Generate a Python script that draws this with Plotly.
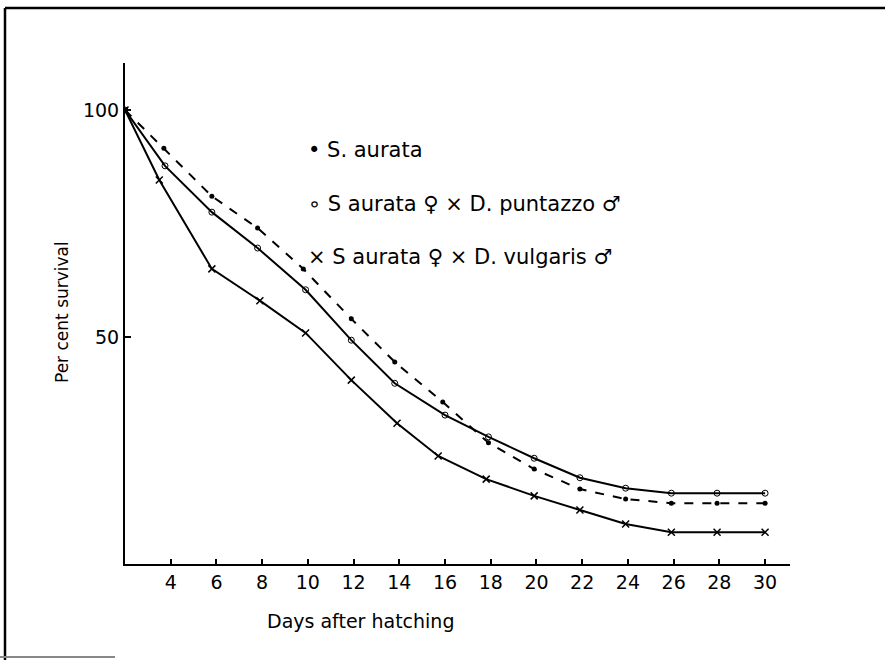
import plotly.graph_objects as go

# Data
days_aurata = [2, 3.7, 5.8, 7.8, 9.8, 11.9, 13.8, 15.9, 17.9, 19.9, 21.9, 23.9, 25.9, 27.9, 30]
surv_aurata = [100, 91.6, 81, 74, 65, 54, 44.5, 35.7, 26.7, 20.9, 16.5, 14.3, 13.4, 13.4, 13.4]

days_puntazzo = [2, 3.75, 5.8, 7.8, 9.9, 11.9, 13.8, 16, 17.9, 19.9, 21.9, 23.9, 25.9, 27.9, 30]
surv_puntazzo = [100, 87.7, 77.5, 69.6, 60.4, 49.3, 39.8, 32.8, 28, 23.3, 19, 16.7, 15.6, 15.6, 15.6]

days_vulgaris = [2, 3.5, 5.8, 7.9, 9.9, 11.9, 13.9, 15.7, 17.8, 19.9, 21.9, 23.9, 25.9, 27.9, 30]
surv_vulgaris = [100, 84.6, 65, 58, 50.9, 40.5, 31, 23.8, 18.7, 15, 11.9, 8.8, 7, 7, 7]

x_ticks = [4, 6, 8, 10, 12, 14, 16, 18, 20, 22, 24, 26, 28, 30]
y_ticks = [50, 100]

legend_labels = ["• S. aurata",
                 "∘ S aurata ♀ × D. puntazzo ♂",
                 "× S aurata ♀ × D. vulgaris ♂"]

FONT = "DejaVu Sans"
W, H = 885, 660
L, R, T, B = 125, 95, 63, 96
pw, ph = W - L - R, H - T - B

def px(x):
    return (x - L) / pw

def py(y):
    return (H - B - y) / ph

fig = go.Figure()
fig.add_trace(go.Scatter(x=days_aurata, y=surv_aurata, mode="lines+markers",
                         line=dict(color="black", width=2, dash="dash"),
                         marker=dict(symbol="circle", size=5, color="black"),
                         name="S. aurata"))
fig.add_trace(go.Scatter(x=days_puntazzo, y=surv_puntazzo, mode="lines+markers",
                         line=dict(color="black", width=2),
                         marker=dict(symbol="circle-open", size=6, color="black"),
                         name="S. aurata x D. puntazzo"))
fig.add_trace(go.Scatter(x=days_vulgaris, y=surv_vulgaris, mode="lines+markers",
                         line=dict(color="black", width=2),
                         marker=dict(symbol="x-thin-open", size=7, color="black",
                                     line=dict(width=1.5, color="black")),
                         name="S. aurata x D. vulgaris"))

fig.update_xaxes(range=[2, 2 + pw / 22.86], tickvals=x_ticks,
                 ticktext=[str(v) for v in x_ticks],
                 showline=True, linecolor="black", linewidth=2,
                 ticks="inside", ticklen=5, tickcolor="black", tickwidth=1.5,
                 showgrid=False, zeroline=False,
                 tickfont=dict(family=FONT, size=19, color="black"))
fig.update_yaxes(range=[0, ph / 4.54], tickvals=y_ticks,
                 ticktext=[str(v) for v in y_ticks],
                 showline=True, linecolor="black", linewidth=2,
                 ticks="inside", ticklen=6, tickcolor="black", tickwidth=1.5,
                 showgrid=False, zeroline=False,
                 tickfont=dict(family=FONT, size=19, color="black"))

annotations = []
for i, lab in enumerate(legend_labels):
    annotations.append(dict(x=px(306), y=py([150, 204, 257][i]), xref="paper", yref="paper",
                            text=lab, showarrow=False, xanchor="left", yanchor="middle",
                            font=dict(family=FONT, size=21, color="black")))
annotations.append(dict(x=px(360), y=py(621), xref="paper", yref="paper",
                        text="Days after hatching", showarrow=False,
                        xanchor="center", yanchor="middle",
                        font=dict(family=FONT, size=19, color="black")))
annotations.append(dict(x=px(62), y=py(312), xref="paper", yref="paper",
                        text="Per cent survival", showarrow=False, textangle=-90,
                        xanchor="center", yanchor="middle",
                        font=dict(family=FONT, size=17, color="black")))

shapes = [
    dict(type="line", xref="paper", yref="paper", x0=px(5), x1=px(885), y0=py(8), y1=py(8),
         line=dict(color="black", width=2.5)),
    dict(type="line", xref="paper", yref="paper", x0=px(5), x1=px(5), y0=py(8), y1=py(660),
         line=dict(color="black", width=2.5)),
    dict(type="line", xref="paper", yref="paper", x0=px(0), x1=px(115), y0=py(657), y1=py(657),
         line=dict(color="#888888", width=2)),
]

fig.update_layout(width=W, height=H, margin=dict(l=L, r=R, t=T, b=B),
                  paper_bgcolor="white", plot_bgcolor="white",
                  showlegend=False, annotations=annotations, shapes=shapes)

fig.write_html("out.html")
